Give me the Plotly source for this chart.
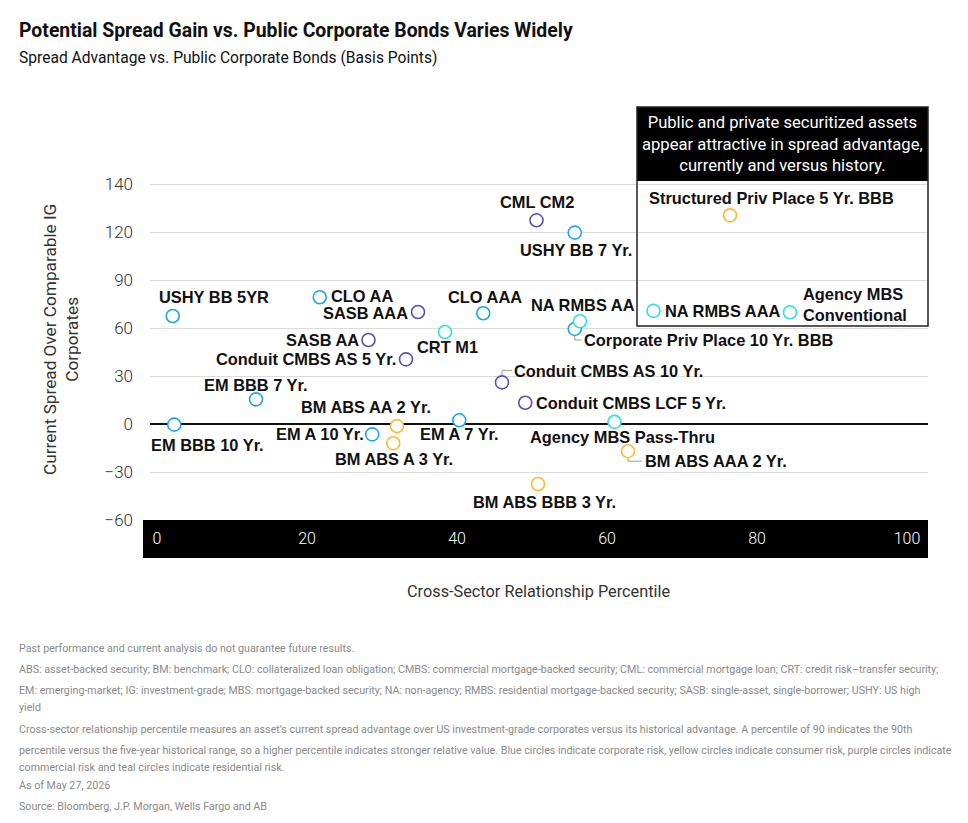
import plotly.graph_objects as go

# ---------------- data ----------------
names = [
    "USHY BB 5YR", "CLO AA", "SASB AAA", "SASB AA", "Conduit CMBS AS 5 Yr.",
    "CRT M1", "CLO AAA", "CML CM2", "USHY BB 7 Yr.", "NA RMBS AA",
    "Corporate Priv Place 10 Yr. BBB", "Conduit CMBS AS 10 Yr.", "Conduit CMBS LCF 5 Yr.",
    "EM BBB 7 Yr.", "EM BBB 10 Yr.", "BM ABS AA 2 Yr.", "EM A 10 Yr.", "BM ABS A 3 Yr.",
    "EM A 7 Yr.", "Agency MBS Pass-Thru", "BM ABS AAA 2 Yr.", "BM ABS BBB 3 Yr.",
    "Structured Priv Place 5 Yr. BBB", "NA RMBS AAA", "Agency MBS Conventional",
]
percentile = [
    2.1, 21.7, 34.8, 28.2, 33.2,
    38.4, 43.5, 50.6, 55.7, 56.4,
    55.7, 46.0, 49.1,
    13.2, 2.3, 32.0, 28.7, 31.5,
    40.3, 61.0, 62.8, 50.8,
    76.4, 66.2, 84.4,
]
spread = [
    67.5, 79.2, 70.0, 52.5, 40.4,
    57.5, 69.2, 127.3, 119.6, 64.2,
    59.4, 26.0, 13.3,
    15.4, -0.4, -1.3, -6.5, -12.0,
    2.3, 1.3, -17.0, -37.5,
    130.4, 70.7, 69.8,
]
risk = [
    "Corporate", "Corporate", "Commercial", "Commercial", "Commercial",
    "Residential", "Corporate", "Commercial", "Corporate", "Residential",
    "Corporate", "Commercial", "Commercial",
    "Corporate", "Corporate", "Consumer", "Corporate", "Consumer",
    "Corporate", "Residential", "Consumer", "Consumer",
    "Consumer", "Residential", "Residential",
]
x_tick_values = [0, 20, 40, 60, 80, 100]
x_tick_labels = ["0", "20", "40", "60", "80", "100"]
y_tick_values = [-60, -30, 0, 30, 60, 90, 120, 150]
y_tick_labels = ["\u221260", "\u221230", "0", "30", "60", "90", "120", "140"]

# ---------------- styles ----------------
risk_colors = {
    "Corporate": "#1ea7e0",
    "Consumer": "#ffb833",
    "Commercial": "#5a4fb5",
    "Residential": "#33e0d4",
}
FONT = "Roboto"
LABEL_FONT = "Liberation Sans"

# label placement: (xanchor, dx px, dy px (down positive))
label_place = {
    "USHY BB 5YR": ("center", 41, -19),
    "CLO AA": ("left", 9, -1),
    "SASB AAA": ("right", -8, 1),
    "SASB AA": ("right", -8, 0),
    "Conduit CMBS AS 5 Yr.": ("right", -8, 0),
    "CRT M1": ("center", 2, 15),
    "CLO AAA": ("center", 2, -16),
    "CML CM2": ("center", 0, -18),
    "USHY BB 7 Yr.": ("center", 1, 17),
    "NA RMBS AA": ("center", 3, -16),
    "Corporate Priv Place 10 Yr. BBB": ("left", 7, 11),
    "Conduit CMBS AS 10 Yr.": ("left", 10, -11),
    "Conduit CMBS LCF 5 Yr.": ("left", 9, 0),
    "EM BBB 7 Yr.": ("center", 0, -14),
    "EM BBB 10 Yr.": ("center", 33, 20),
    "BM ABS AA 2 Yr.": ("center", -31, -19),
    "EM A 10 Yr.": ("right", -6, 0),
    "BM ABS A 3 Yr.": ("center", 1, 16),
    "EM A 7 Yr.": ("center", 0, 14),
    "Agency MBS Pass-Thru": ("center", 8, 15),
    "BM ABS AAA 2 Yr.": ("left", 15, 10),
    "BM ABS BBB 3 Yr.": ("center", 6, 18),
    "Structured Priv Place 5 Yr. BBB": ("center", 41, -17),
    "NA RMBS AAA": ("left", 9, 0),
    "Agency MBS Conventional": ("left", 11, -8),
}
label_text = {"Agency MBS Conventional": "Agency MBS<br>Conventional"}
# leader lines (pixel path relative to point, y up positive)
leaders = {
    "Conduit CMBS AS 10 Yr.": "M 0,7 L 0,12 L 10,12",
    "Corporate Priv Place 10 Yr. BBB": "M 0,-7 L 0,-11 L 7,-11",
    "BM ABS AAA 2 Yr.": "M 0,-7 L 0,-10 L 14,-10",
}

W, H = 968, 823
L, R, T, B = 150, 928, 107, 520   # plot area in pixels


def px(x):
    return (x - L) / (R - L)


def py(y):
    return (B - y) / (B - T)


fig = go.Figure()

for cat in ["Corporate", "Consumer", "Commercial", "Residential"]:
    idx = [i for i, r in enumerate(risk) if r == cat]
    fig.add_trace(go.Scatter(
        x=[percentile[i] for i in idx],
        y=[spread[i] for i in idx],
        text=[names[i] for i in idx],
        mode="markers",
        marker=dict(symbol="circle", size=13, color="white",
                    line=dict(color=risk_colors[cat], width=1.6)),
        name=cat, showlegend=False, hoverinfo="text+x+y",
        cliponaxis=False,
    ))

annotations = []
shapes = []

for n, xv, yv in zip(names, percentile, spread):
    xa, dx, dy = label_place[n]
    annotations.append(dict(
        x=xv, y=yv, xref="x", yref="y", text="<b>" + label_text.get(n, n) + "</b>",
        showarrow=False, xanchor=xa, yanchor="middle", xshift=dx, yshift=-dy,
        align="left", font=dict(family=LABEL_FONT, size=16.4, color="#111"),
    ))
    if n in leaders:
        shapes.append(dict(
            type="path", xref="x", yref="y", xsizemode="pixel", ysizemode="pixel",
            xanchor=xv, yanchor=yv, path=leaders[n],
            line=dict(color="#9a9a9a", width=1), layer="below",
        ))

# black x axis band
shapes.append(dict(type="rect", xref="paper", yref="paper",
                   x0=px(143), x1=1, y0=py(558), y1=0,
                   fillcolor="black", line=dict(width=0), layer="below"))
# callout box
shapes.append(dict(type="rect", xref="paper", yref="paper",
                   x0=px(637), x1=1, y0=py(181), y1=1,
                   fillcolor="black", line=dict(width=0), layer="above"))
shapes.append(dict(type="rect", xref="paper", yref="paper",
                   x0=px(637), x1=1, y0=py(326), y1=1,
                   fillcolor="rgba(0,0,0,0)", line=dict(color="#222", width=1.5), layer="above"))

annotations.append(dict(
    xref="paper", yref="paper", x=px(782), y=py(144), showarrow=False,
    xanchor="center", yanchor="middle", align="center",
    text="Public and private securitized assets<br>appear attractive in spread advantage,<br>currently and versus history.",
    font=dict(family=FONT, size=16.6, color="white"),
))

# titles
annotations.append(dict(
    xref="paper", yref="paper", x=px(17), y=py(30), showarrow=False,
    xanchor="left", yanchor="middle",
    text="<b>Potential Spread Gain vs. Public Corporate Bonds Varies Widely</b>",
    font=dict(family=FONT, size=19.4, color="#111"),
))
annotations.append(dict(
    xref="paper", yref="paper", x=px(17), y=py(58), showarrow=False,
    xanchor="left", yanchor="middle",
    text="Spread Advantage vs. Public Corporate Bonds (Basis Points)",
    font=dict(family=FONT, size=15.6, color="#111"),
))
annotations.append(dict(
    xref="paper", yref="paper", x=px(538), y=py(591), showarrow=False,
    xanchor="center", yanchor="middle",
    text="Cross-Sector Relationship Percentile",
    font=dict(family=FONT, size=16.3, color="#333"),
))
annotations.append(dict(
    xref="paper", yref="paper", x=px(61), y=py(340), showarrow=False,
    xanchor="center", yanchor="middle", textangle=-90, align="center",
    text="Current Spread Over Comparable IG<br>Corporates",
    font=dict(family=FONT, size=17.2, color="#333"),
))

footnotes = [
    (648, "Past performance and current analysis do not guarantee future results."),
    (669, "ABS: asset-backed security; BM: benchmark; CLO: collateralized loan obligation; CMBS: commercial mortgage-backed security; CML: commercial mortgage loan; CRT: credit risk\u2013transfer security;"),
    (690, "EM: emerging-market; IG: investment-grade; MBS: mortgage-backed security; NA: non-agency; RMBS: residential mortgage-backed security; SASB: single-asset, single-borrower; USHY: US high"),
    (707, "yield"),
    (729, "Cross-sector relationship percentile measures an asset\u2019s current spread advantage over US investment-grade corporates versus its historical advantage. A percentile of 90 indicates the 90th"),
    (750, "percentile versus the five-year historical range, so a higher percentile indicates stronger relative value. Blue circles indicate corporate risk, yellow circles indicate consumer risk, purple circles indicate"),
    (767, "commercial risk and teal circles indicate residential risk."),
    (785, "As of May 27, 2026"),
    (806, "Source: Bloomberg, J.P. Morgan, Wells Fargo and AB"),
]
for yy, t in footnotes:
    annotations.append(dict(
        xref="paper", yref="paper", x=px(17), y=py(yy), showarrow=False,
        xanchor="left", yanchor="middle", text=t,
        font=dict(family=FONT, size=10.7, color="#8a8a8a"),
    ))

xmin = -(157 - L) / 7.5
xmax = xmin + (R - L) / 7.5
ymin = -60
ymax = ymin + (B - T) / 1.6

fig.update_layout(
    width=W, height=H,
    margin=dict(l=L, r=W - R, t=T, b=H - B, pad=0),
    paper_bgcolor="white", plot_bgcolor="white",
    font=dict(family=FONT, color="#333"),
    xaxis=dict(range=[xmin, xmax], tickvals=x_tick_values, ticktext=x_tick_labels,
               showgrid=False, zeroline=False, showline=False, ticks="",
               tickfont=dict(family=FONT, size=16, color="white", weight=300),
               ticklabelstandoff=7, fixedrange=True),
    yaxis=dict(range=[ymin, ymax], tickvals=y_tick_values, ticktext=y_tick_labels,
               showgrid=True, gridcolor="#dcdcdc", gridwidth=1,
               zeroline=True, zerolinecolor="#111", zerolinewidth=1.5,
               showline=False, ticks="",
               tickfont=dict(family=FONT, size=17, color="#333", weight=300),
               ticklabelstandoff=16, fixedrange=True),
    annotations=annotations,
    shapes=shapes,
    showlegend=False,
)

fig.write_html("out.html")
